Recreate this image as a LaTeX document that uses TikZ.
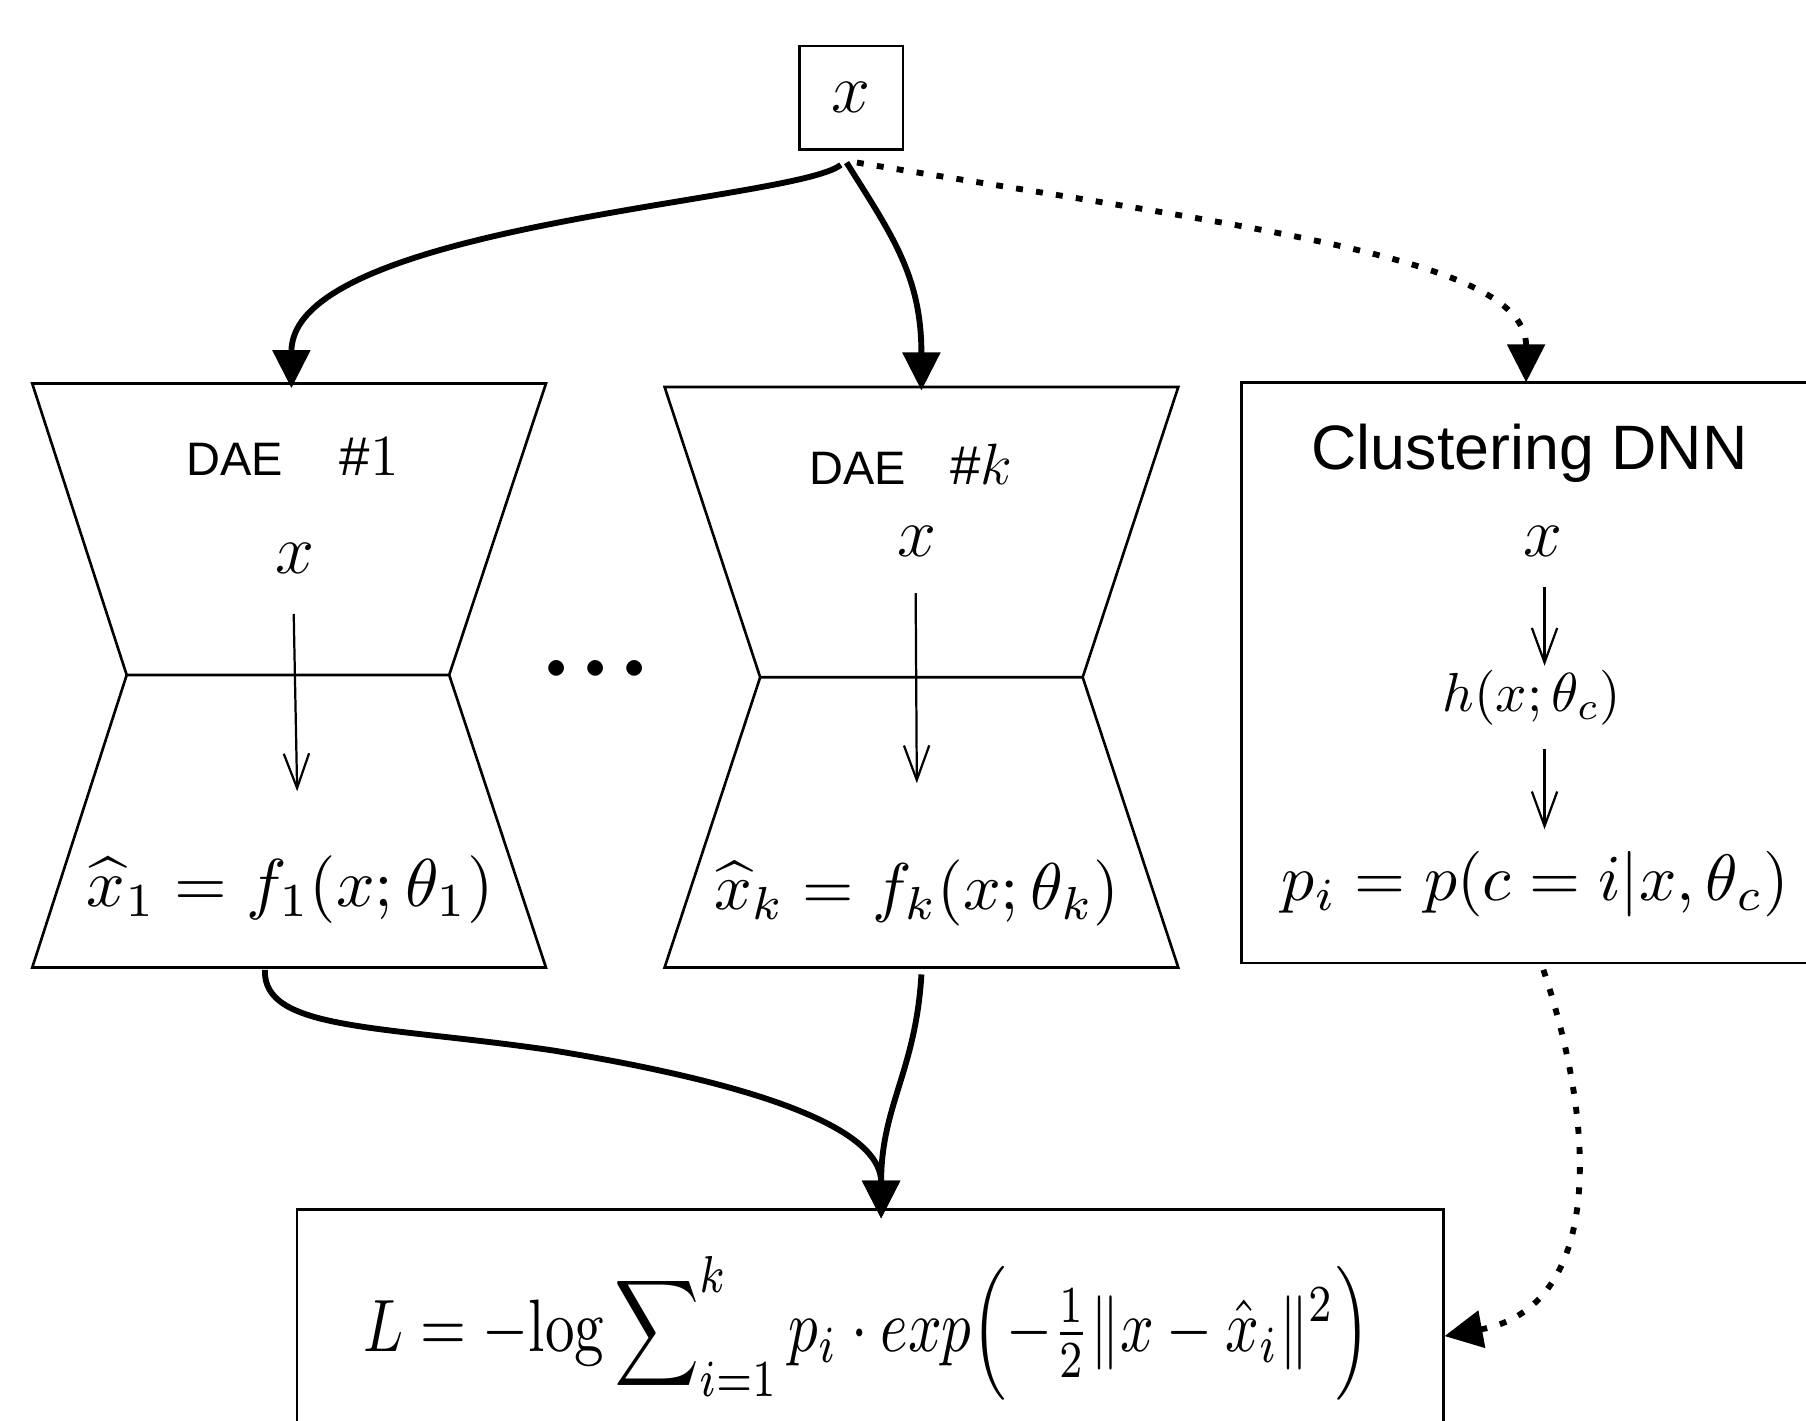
\documentclass[tikz,border=0pt]{standalone}
\usepackage{amsmath}
\usepackage{fontspec}
\newfontfamily\arial{Liberation Sans}
\usetikzlibrary{arrows.meta,calc}
\begin{document}
\begin{tikzpicture}[x=0.1mm,y=-0.1mm,
  conn/.style={line width=1.45pt,-{Triangle[length=3.3mm,width=3.2mm]}},
  dotconn/.style={conn,dash pattern=on 0.6mm off 1.15mm},
  inarr/.style={line width=0.55pt,-{Straight Barb[length=3mm,width=2.2mm]}},
  edgeline/.style={line width=0.65pt},
  boxnode/.style={draw,line width=0.65pt,inner sep=0pt},
  mathtxt/.style={inner sep=0pt,font=\fontsize{17.5pt}{20pt}\selectfont},
  lbl/.style={inner sep=0pt,anchor=base},
  plain/.style={inner sep=0pt}]
\clip (0,0) rectangle (1568,1233);

% input box
\node[boxnode,minimum width=9mm,minimum height=9mm,mathtxt] (x0) at (739,85) {$x$};

% DAE #1 hourglass
\draw[edgeline] (28,333) -- (474,333) -- (390,586) -- (474,840) -- (28,840) -- (110,586) -- cycle
                (110,586) -- (390,586);
\coordinate (d1in) at (253,337);
\coordinate (d1out) at (230,842);
\node[lbl] (d1lbl) at (254,413) {\fontsize{11.6pt}{14pt}\arial DAE\hspace{14pt}{\fontsize{13.5pt}{16pt}\selectfont\#$1$}};
\node[mathtxt] (d1x) at (256,485) {$x$};
\node[plain] (d1f) at (252,772) {\resizebox{3.53cm}{!}{$\widehat{x}_1 = f_1(x;\theta_1)$}};
\coordinate (d1a) at (255,533);
\coordinate (d1b) at (258,687);
\draw[inarr] (d1a) -- (d1b);

% ellipsis between the autoencoders
\node[lbl,font=\fontsize{10pt}{12pt}\selectfont] (ellip) at (517,589) {${\bullet}\kern4.7pt{\bullet}\kern4.7pt{\bullet}$};

% DAE #k hourglass
\draw[edgeline] (577,336) -- (1023,336) -- (940,588) -- (1023,840) -- (577,840) -- (660,588) -- cycle
                (660,588) -- (940,588);
\coordinate (dkin) at (800,339);
\coordinate (dkout) at (800,846);
\node[lbl] (dklbl) at (791,421) {\fontsize{11.6pt}{14pt}\arial DAE\hspace{11pt}{\fontsize{13.5pt}{16pt}\selectfont\#$k$}};
\node[mathtxt] (dkx) at (796,470) {$x$};
\node[plain] (dkf) at (796,775) {\resizebox{3.52cm}{!}{$\widehat{x}_k = f_k(x;\theta_k)$}};
\coordinate (dka) at (795,515);
\coordinate (dkb) at (796,680);
\draw[inarr] (dka) -- (dkb);

% Clustering DNN
\node[boxnode,minimum width=5.22cm,minimum height=5.04cm] (clu) at (1339,584) {};
\coordinate (cin) at (1325,332);
\coordinate (cout) at (1340,842);
\node[lbl] (clulbl) at (1328,408) {\fontsize{15.5pt}{18pt}\arial Clustering DNN};
\node[mathtxt] (cx) at (1340,470) {$x$};
\node[plain] (hf) at (1330,606) {\resizebox{1.55cm}{!}{$h(x;\theta_c)$}};
\node[plain] (pf) at (1333,768) {\resizebox{4.40cm}{!}{$p_i = p(c = i|x,\theta_c)$}};
\coordinate (c1a) at (1341,510);
\coordinate (c1b) at (1341,578);
\coordinate (c2a) at (1341,650);
\coordinate (c2b) at (1341,720);
\draw[inarr] (c1a) -- (c1b);
\draw[inarr] (c2a) -- (c2b);

% loss box
\node[boxnode,minimum width=9.95cm,minimum height=2.2cm] (loss) at (755.5,1160) {};
\node[plain] (lf) at (753,1153) {\resizebox*{8.74cm}{1.25cm}{$L = -\!\log\displaystyle\sum\nolimits_{i=1}^{k} p_i\cdot exp\Bigl(-\tfrac{1}{2}\lVert x-\hat{x}_i\rVert^{2}\Bigr)$}};
\coordinate (lin) at (765,1058);

% connectors from input
\coordinate (xoL) at ($(x0.south)+(-9,12)$);
\coordinate (xoR) at ($(x0.south)+(-4,10)$);
\coordinate (xoD) at ($(x0.south)+(5,10)$);
\draw[conn] (xoL) .. controls (690,175) and (253,195) .. (d1in);
\draw[conn] (xoR) .. controls (775,205) and (800,240) .. (dkin);
\draw[dotconn] (xoD) .. controls (1100,200) and (1325,225) .. (cin);

% connectors to loss
\draw[conn] (d1out) .. controls (228,895) and (330,890) .. (480,912) .. controls (700,948) and (765,990) .. (lin);
\draw[conn] (dkout) .. controls (795,930) and (765,960) .. (lin);
\draw[dotconn] (cout) .. controls (1388,985) and (1390,1135) .. (loss.east);
\end{tikzpicture}
\end{document}
